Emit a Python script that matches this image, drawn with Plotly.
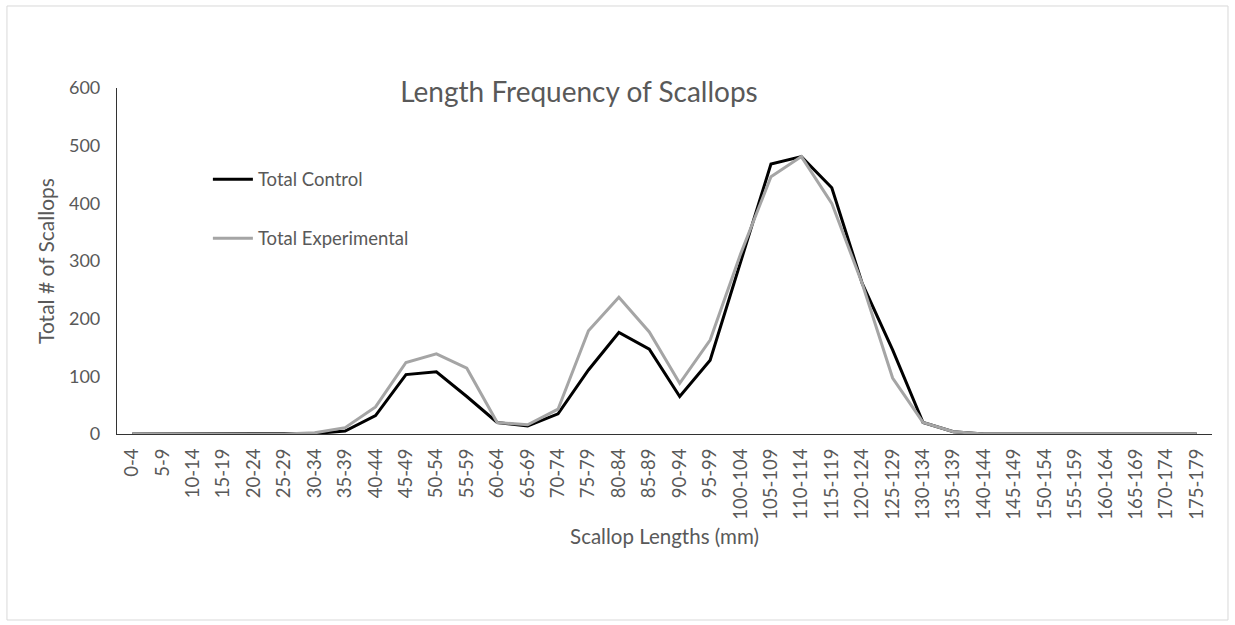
import plotly.graph_objects as go

categories = [f"{i}-{i+4}" for i in range(0, 180, 5)]

control = [0, 0, 0, 0, 0, 0, 1, 5, 32, 103, 108, 65, 20, 14, 35, 111, 176, 147, 65, 128,
           300, 468, 481, 427, 261, 146, 20, 4, 0, 0, 0, 0, 0, 0, 0, 0]
experimental = [0, 0, 0, 0, 0, 0, 2, 11, 47, 124, 139, 114, 20, 16, 43, 179, 237, 177, 88, 163,
                312, 446, 481, 400, 261, 97, 20, 4, 0, 0, 0, 0, 0, 0, 0, 0]

y_ticks = [0, 100, 200, 300, 400, 500, 600]

FONT = "Lato, 'Open Sans', sans-serif"
TXT = "#595959"

fig = go.Figure()
fig.add_trace(go.Scatter(x=categories, y=control, mode="lines", name="Total Control",
                         line=dict(color="#000000", width=3), legendgroup="a"))
fig.add_trace(go.Scatter(x=categories, y=experimental, mode="lines", name="Total Experimental",
                         line=dict(color="#A5A5A5", width=3), legendgroup="b"))

fig.update_layout(
    width=1235, height=625,
    margin=dict(l=117, r=23, t=88, b=191),
    paper_bgcolor="white", plot_bgcolor="white",
    font=dict(family=FONT, color=TXT, size=14),
    title=dict(text="Length Frequency of Scallops", x=579 / 1235, xref="container", xanchor="center",
               y=1 - 92 / 625, yref="container", yanchor="middle",
               font=dict(size=28, color=TXT, family=FONT)),
    showlegend=True,
    legend=dict(x=0.083, y=0.79, xanchor="left", yanchor="top", bgcolor="rgba(0,0,0,0)",
                traceorder="grouped", tracegroupgap=32, itemwidth=40,
                font=dict(size=18.5, color=TXT, family=FONT)),
    xaxis=dict(type="category", categoryorder="array", categoryarray=categories,
               range=[-0.5, len(categories) - 0.5],
               showline=True, linecolor="#333333", linewidth=1.2, showgrid=False,
               ticks="", tickangle=-90, tickfont=dict(size=18.5, color=TXT), ticklabelstandoff=6,
               title=dict(text="Scallop Lengths (mm)", font=dict(size=20.5, color=TXT), standoff=10),
               zeroline=False),
    yaxis=dict(range=[0, 600], tickvals=y_ticks, showline=True, linecolor="#333333", linewidth=1.2,
               showgrid=False, zeroline=False, ticks="", tickfont=dict(size=18, color=TXT),
               ticklabelstandoff=12,
               title=dict(text="Total # of Scallops", font=dict(size=21, color=TXT), standoff=8)),
)

fig.add_shape(type="rect", xref="paper", yref="paper", x0=-0.1005, x1=1.0146, y0=-0.5376, y1=1.237,
              line=dict(color="#D9D9D9", width=1), fillcolor="rgba(0,0,0,0)", layer="below")

fig.write_html("out.html", config={"displayModeBar": False},
               post_script="document.body.style.margin='0px';")
